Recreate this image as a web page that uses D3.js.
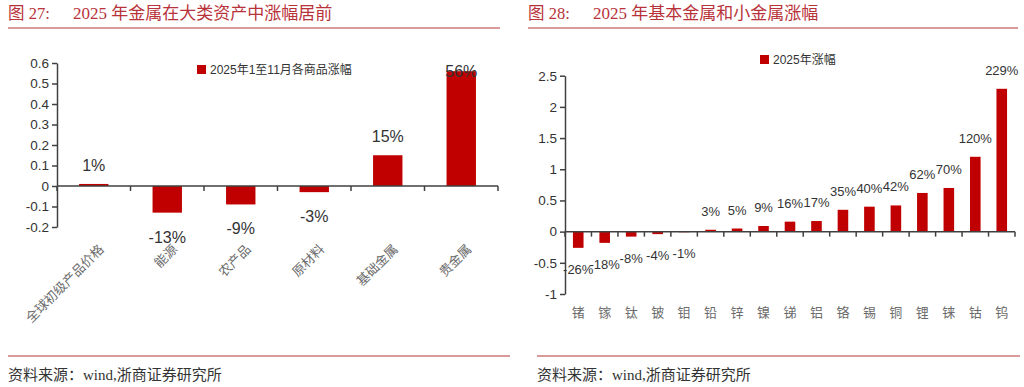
<!DOCTYPE html>
<html>
<head>
<meta charset="utf-8">
<script src="https://cdn.jsdelivr.net/npm/d3@7"></script>
<style>
  html, body { margin: 0; padding: 0; background: #fff; }
  svg { display: block; }
</style>
</head>
<body>
<svg id="chart" width="1024" height="387"></svg>
<script>
// ---- data ----
var leftCategories = ["全球初级产品价格", "能源", "农产品", "原材料", "基础金属", "贵金属"];
var leftValues = [0.01, -0.13, -0.09, -0.03, 0.15, 0.56];
var leftLabels = ["1%", "-13%", "-9%", "-3%", "15%", "56%"];
var leftTicks = [0.6, 0.5, 0.4, 0.3, 0.2, 0.1, 0, -0.1, -0.2];

var rightCategories = ["锗", "镓", "钛", "铍", "钼", "铅", "锌", "镍", "锑", "铝", "铬", "锡", "铜", "锂", "铼", "钴", "钨"];
var rightValues = [-0.26, -0.18, -0.08, -0.04, -0.01, 0.03, 0.05, 0.09, 0.16, 0.17, 0.35, 0.40, 0.42, 0.62, 0.70, 1.20, 2.29];
var rightLabels = ["-26%", "-18%", "-8%", "-4%", "-1%", "3%", "5%", "9%", "16%", "17%", "35%", "40%", "42%", "62%", "70%", "120%", "229%"];
var rightTicks = [2.5, 2, 1.5, 1, 0.5, 0, -0.5, -1];

var BAR = "#c00000";
var TITLE_RED = "#b8323a";
var RULE = "#d99a9a";
var FONT = "'Liberation Sans', Arial, 'Noto Sans CJK SC', sans-serif";
var SERIF = "'Liberation Serif', 'Noto Sans CJK SC', serif";
var CJK = "'Noto Sans CJK SC', sans-serif";

var svg = d3.select("#chart");

// frame: title, rules, source line
function frame(o) {
    var g = svg.append("g");
    g.append("text")
        .attr("x", o.x).attr("y", 19)
        .attr("fill", TITLE_RED)
        .style("font-family", SERIF).style("font-size", "16.5px")
        .text(o.fig);
    g.append("text")
        .attr("x", o.x + 65).attr("y", 19)
        .attr("fill", TITLE_RED)
        .style("font-family", SERIF).style("font-size", "17px")
        .text(o.title);
    g.append("line")
        .attr("x1", o.x).attr("x2", o.ruleEnd).attr("y1", 28).attr("y2", 28)
        .attr("stroke", RULE).attr("stroke-width", 2);
    g.append("line")
        .attr("x1", o.bx).attr("x2", o.bEnd).attr("y1", 356).attr("y2", 356)
        .attr("stroke", RULE).attr("stroke-width", 2);
    g.append("text")
        .attr("x", o.bx).attr("y", 380)
        .attr("fill", "#333")
        .style("font-family", SERIF).style("font-size", "15px")
        .text("资料来源：wind,浙商证券研究所");
}

function barPanel(o) {
    var g = svg.append("g");

    var x = d3.scaleBand()
        .domain(o.categories)
        .range([o.left, o.right])
        .paddingInner(0.6)
        .paddingOuter(0.3);

    var y = d3.scaleLinear()
        .domain(o.domain)
        .range([o.bottom, o.top]);

    var zero = y(0);

    // y axis
    var yAxis = g.append("g")
        .attr("transform", `translate(${o.left},0)`)
        .call(d3.axisLeft(y)
            .tickValues(o.ticks)
            .tickSize(5)
            .tickSizeOuter(0)
            .tickFormat(d => String(+d.toFixed(1))));
    yAxis.select(".domain").attr("stroke", "#404040").attr("stroke-width", 1.5);
    yAxis.selectAll(".tick line").attr("stroke", "#404040").attr("stroke-width", 1.5);
    yAxis.selectAll(".tick text")
        .attr("fill", "#333")
        .attr("x", -8)
        .style("font-family", FONT).style("font-size", "13.5px");

    // bars
    g.selectAll("rect.bar")
        .data(o.values)
        .join("rect")
        .attr("class", "bar")
        .attr("x", (d, i) => x(o.categories[i]))
        .attr("width", x.bandwidth())
        .attr("y", d => Math.min(y(d), zero))
        .attr("height", d => Math.abs(y(d) - zero))
        .attr("fill", BAR);

    // x axis line + category boundary ticks
    g.append("line")
        .attr("x1", o.left).attr("x2", o.right)
        .attr("y1", zero).attr("y2", zero)
        .attr("stroke", "#404040").attr("stroke-width", 1.5);
    g.selectAll("line.xtick")
        .data(d3.range(o.categories.length + 1))
        .join("line")
        .attr("class", "xtick")
        .attr("x1", i => o.left + i * x.step())
        .attr("x2", i => o.left + i * x.step())
        .attr("y1", zero).attr("y2", zero + 5)
        .attr("stroke", "#404040").attr("stroke-width", 1.5);

    // value labels
    g.selectAll("text.val")
        .data(o.values)
        .join("text")
        .attr("class", "val")
        .attr("x", (d, i) => x(o.categories[i]) + x.bandwidth() / 2)
        .attr("y", d => d >= 0 ? Math.max(y(d) - o.above, o.labelMin) : y(d) + o.below)
        .attr("text-anchor", "middle")
        .attr("fill", "#333")
        .style("font-family", FONT).style("font-size", o.valSize)
        .text((d, i) => o.labels[i]);

    // category labels
    var cat = g.selectAll("text.cat")
        .data(o.categories)
        .join("text")
        .attr("class", "cat")
        .attr("fill", "#6b6b6b")
        .style("font-family", CJK).style("font-size", "13px")
        .text(d => d);
    if (o.rotate) {
        cat.attr("text-anchor", "end")
            .attr("transform", d => `translate(${x(d) + x.bandwidth() / 2 + 11},${o.catY}) rotate(-45)`);
    } else {
        cat.attr("text-anchor", "middle")
            .attr("x", d => x(d) + x.bandwidth() / 2)
            .attr("y", o.catY);
    }

    // legend
    g.append("rect")
        .attr("x", o.legendX).attr("y", o.legendY - 5)
        .attr("width", 9).attr("height", 9)
        .attr("fill", BAR);
    g.append("text")
        .attr("x", o.legendX + 13).attr("y", o.legendY + 4)
        .attr("fill", "#333")
        .style("font-family", FONT).style("font-size", "12px")
        .text(o.legend);
}

frame({ x: 8, fig: "图 27:", title: "2025 年金属在大类资产中涨幅居前", ruleEnd: 500, bx: 8, bEnd: 510 });
frame({ x: 528, fig: "图 28:", title: "2025 年基本金属和小金属涨幅", ruleEnd: 1018, bx: 537, bEnd: 1020 });

barPanel({
    categories: leftCategories, values: leftValues, labels: leftLabels, ticks: leftTicks,
    domain: [-0.2, 0.6], left: 57, right: 498, top: 63, bottom: 227,
    above: 13, below: 30, labelMin: 77, valSize: "16px",
    rotate: true, catY: 250,
    legendX: 197, legendY: 70, legend: "2025年1至11月各商品涨幅"
});

barPanel({
    categories: rightCategories, values: rightValues, labels: rightLabels, ticks: rightTicks,
    domain: [-1, 2.5], left: 565, right: 1015, top: 75.7, bottom: 294,
    above: 14, below: 26, labelMin: 0, valSize: "13px",
    rotate: false, catY: 317,
    legendX: 760, legendY: 60, legend: "2025年涨幅"
});
</script>
</body>
</html>
